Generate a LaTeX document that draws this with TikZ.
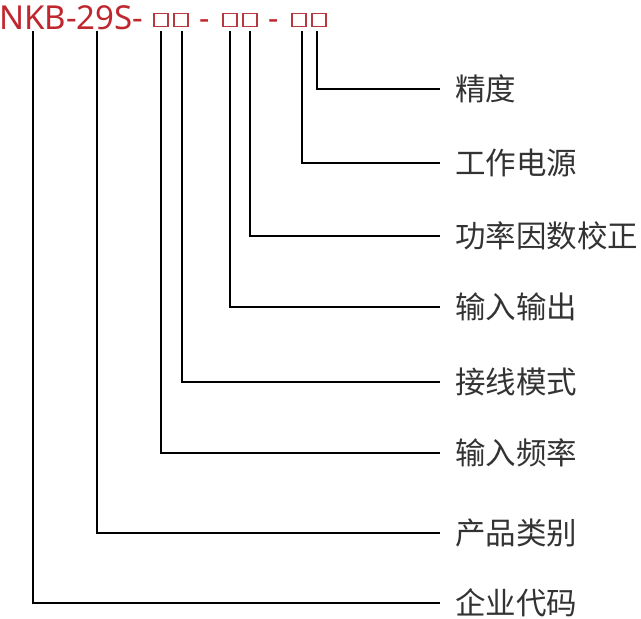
\documentclass[tikz,border=0pt]{standalone}
\usepackage{fontspec}
\setmainfont{Noto Sans}
\newfontfamily\cjk{Noto Sans CJK SC}
\definecolor{titlered}{HTML}{C0262D}
\definecolor{boxred}{HTML}{B8393D}
\definecolor{labelgray}{HTML}{333333}
\begin{document}
\begin{tikzpicture}[x=1pt,y=-1pt,
  lbl/.style={anchor=base west,inner sep=0pt,text=labelgray,font=\cjk\fontsize{30.5}{30.5}\selectfont},
  sq/.style={draw=boxred,line width=1.8pt,inner sep=0pt,minimum width=14.5pt,minimum height=13pt},
  dsh/.style={anchor=base,inner sep=0pt,text=titlered,font=\bfseries\fontsize{32}{32}\selectfont},
  conn/.style={draw=black,line width=1.2pt}]
\useasboundingbox (0,0) rectangle (641,619);
\node[anchor=base west,inner sep=0pt,text=titlered,font=\fontsize{33}{33}\selectfont] (title) at (-1,29) {NKB-29S-};
\node[sq] (b1) at (161,20) {};
\node[sq] (b2) at (181,20) {};
\node[dsh] (d1) at (205,29) {-};
\node[sq] (b3) at (230,20) {};
\node[sq] (b4) at (250,20) {};
\node[dsh] (d2) at (274,29) {-};
\node[sq] (b5) at (299,20) {};
\node[sq] (b6) at (319,20) {};
% labels
\node[lbl] (l1) at (455,100) {精度};
\node[lbl] (l2) at (455,174) {工作电源};
\node[lbl] (l3) at (455,247) {功率因数校正};
\node[lbl] (l4) at (455,318) {输入输出};
\node[lbl] (l5) at (455,393) {接线模式};
\node[lbl] (l6) at (455,464) {输入频率};
\node[lbl] (l7) at (455,544) {产品类别};
\node[lbl] (l8) at (455,614) {企业代码};
% connector ends
\coordinate (e1) at (440,89);
\coordinate (e2) at (440,163);
\coordinate (e3) at (440,236);
\coordinate (e4) at (440,307);
\coordinate (e5) at (440,382);
\coordinate (e6) at (440,453);
\coordinate (e7) at (440,533);
\coordinate (e8) at (440,603);
\coordinate (s1) at (317,31);
\coordinate (s2) at (302,31);
\coordinate (s3) at (250,31);
\coordinate (s4) at (230,31);
\coordinate (s5) at (182,31);
\coordinate (s6) at (161,31);
\coordinate (s7) at (97,31);
\coordinate (s8) at (33,31);
\foreach \i in {1,...,8}{
  \draw[conn] (s\i) |- (e\i);
}
\end{tikzpicture}
\end{document}
